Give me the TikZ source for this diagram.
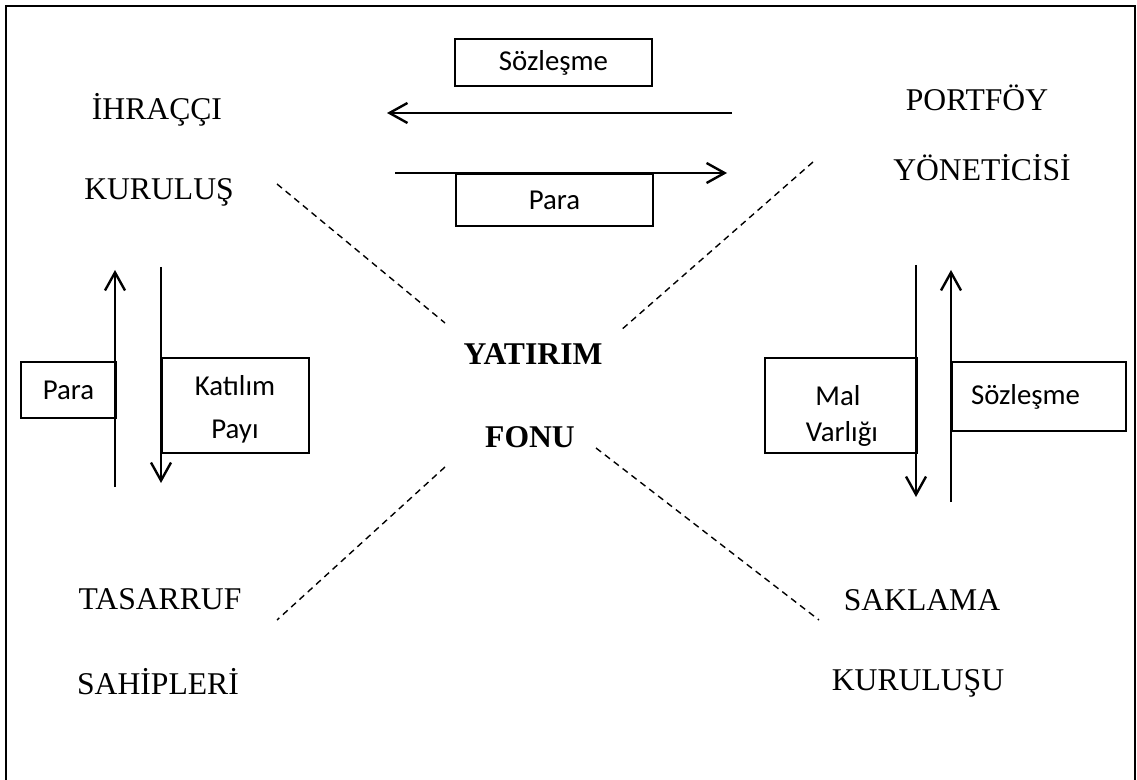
\documentclass[tikz,border=0pt]{standalone}
\usepackage{fontspec}
\setmainfont{Liberation Serif}
\newfontfamily\boxfont{Carlito}
\usetikzlibrary{arrows.meta}
\tikzset{
  party/.style={font=\fontsize{22.5}{27}\selectfont, inner sep=0pt},
  fund/.style={font=\fontsize{22.5}{27}\selectfont\bfseries, inner sep=0pt},
  itembox/.style={draw, line width=0.05cm, inner sep=0pt, align=center,
    font=\boxfont\fontsize{20.5}{24}\selectfont},
  boxline/.style={inner sep=0pt, anchor=base, font=\boxfont\fontsize{20.5}{24}\selectfont},
  flow/.style={line width=0.06cm, -{Straight Barb[length=0.45cm,width=0.5cm]}},
  link/.style={line width=0.035cm, dash pattern=on 0.16cm off 0.12cm}
}
\begin{document}
\begin{tikzpicture}[x=0.025cm, y=-0.025cm]
\useasboundingbox (0,0) rectangle (1137,780);
{
% Drawing frame (open at the bottom)
\draw [line width=0.06cm] (6,790) -- (6,6) -- (1135,6) -- (1135,790);%

% Marking parties
\node [party] (ihracci)   at (157,110) {İHRAÇÇI};%
\node [party] (kurulus)   at (159,192) {KURULUŞ};%
\node [party] (portfoy)   at (977,98)  {PORTFÖY};%
\node [party] (yonetici)  at (982,168) {YÖNETİCİSİ};%
\node [party] (tasarruf)  at (160,599) {TASARRUF};%
\node [party] (sahipleri) at (158,682) {SAHİPLERİ};%
\node [party] (saklama)   at (922,600) {SAKLAMA};%
\node [party] (kurulusu)  at (918,683) {KURULUŞU};%

% Marking fund
\node [fund] (yatirim) at (533,354) {YATIRIM};%
\node [fund] (fonu)    at (530,437) {FONU};%

% Drawing dashed links
\coordinate (ulA) at (277,184);  \coordinate (ulB) at (445,323);
\coordinate (urA) at (813,162);  \coordinate (urB) at (620,331);
\coordinate (llA) at (445,467);  \coordinate (llB) at (277,620);
\coordinate (lrA) at (596,448);  \coordinate (lrB) at (819,620);
\draw [link] (ulA) -- (ulB);%
\draw [link] (urA) -- (urB);%
\draw [link] (llA) -- (llB);%
\draw [link] (lrA) -- (lrB);%

% Drawing top arrows
\coordinate (sozR) at (732,113); \coordinate (sozL) at (387,113);
\coordinate (parL) at (395,173); \coordinate (parR) at (727,173);
\draw [flow] (sozR) -- (sozL);%
\draw [flow] (parL) -- (parR);%
\node [itembox, minimum width=4.925cm, minimum height=1.175cm] (sozTop) at (553.5,62.5) {Sözleşme};%
\node [itembox, minimum width=4.925cm, minimum height=1.3cm, anchor=north west] (parTop) at (455,173) {Para};%

% Drawing left arrows
\coordinate (lupS) at (115,487); \coordinate (lupE) at (115,270);
\coordinate (ldnS) at (161,267); \coordinate (ldnE) at (161,483);
\draw [flow] (lupS) -- (lupE);%
\draw [flow] (ldnS) -- (ldnE);%
\node [itembox, minimum width=2.375cm, minimum height=1.4cm, anchor=north west] (parLeft) at (20,361) {Para};%
\node [itembox, minimum width=3.675cm, minimum height=2.375cm, anchor=north west] (katilim) at (161,357) {};%
\node [boxline] (katilimA) at (235,396) {Katılım};%
\node [boxline] (katilimB) at (235,439) {Payı};%

% Drawing right arrows
\coordinate (rdnS) at (916,265); \coordinate (rdnE) at (916,497);
\coordinate (rupS) at (951,502); \coordinate (rupE) at (951,270);
\draw [flow] (rdnS) -- (rdnE);%
\draw [flow] (rupS) -- (rupE);%
\node [itembox, minimum width=3.8cm, minimum height=2.375cm, anchor=north west] (malvar) at (764,357) {};%
\node [boxline] (malvarA) at (838,405) {Mal};%
\node [boxline] (malvarB) at (842,441) {Varlığı};%
\node [itembox, inner xsep=0.475cm, text width=3.4cm, align=left, minimum height=1.725cm,
  anchor=north west] (sozRight) at (951,361) {Sözleşme};%
}
\end{tikzpicture}
\end{document}
